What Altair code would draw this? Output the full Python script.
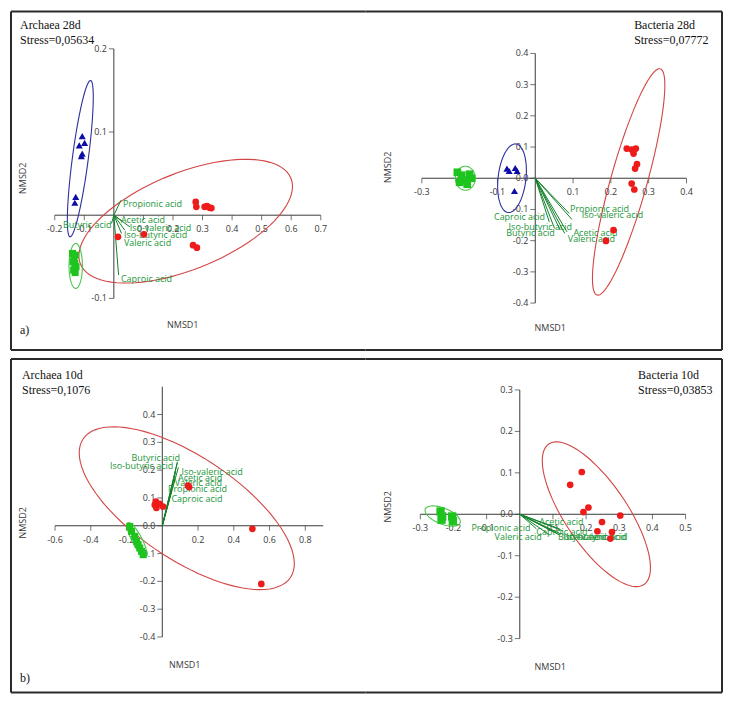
import altair as alt
import pandas as pd

ACIDS = ["Propionic acid", "Acetic acid", "Butyric acid", "Iso-valeric acid",
         "Iso-butyric acid", "Valeric acid", "Caproic acid"]

# ---------------- Panel a-left : Archaea 28d ----------------
A_title = ["Archaea 28d", "Stress=0,05634"]
A_circ_x = [0.277, 0.279, 0.307, 0.315, 0.324, 0.330, 0.268, 0.281, 0.102, 0.014]
A_circ_y = [0.016, 0.010, 0.010, 0.011, 0.009, 0.0085, -0.036, -0.039, -0.023, -0.026]
A_tri_x = [-0.107, -0.117, -0.099, -0.110, -0.107, -0.129, -0.132]
A_tri_y = [0.095, 0.084, 0.087, 0.071, 0.074, 0.022, 0.015]
A_sq_x = [-0.140, -0.135, -0.130, -0.138, -0.132, -0.128, -0.136, -0.131]
A_sq_y = [-0.046, -0.050, -0.048, -0.056, -0.058, -0.062, -0.066, -0.069]
A_vec_x = [0.024, 0.031, -0.008, 0.054, 0.037, 0.026, 0.016]
A_vec_y = [0.018, -0.008, -0.010, -0.014, -0.018, -0.022, -0.072]
A_lab_x = [0.031, 0.024, -0.008, 0.054, 0.034, 0.034, 0.024]
A_lab_y = [0.014, -0.006, -0.012, -0.016, -0.024, -0.033, -0.077]
A_lab_al = ["left", "left", "right", "left", "left", "left", "left"]
# ellipses: colour, centre x, centre y, semi-axis vector a (x, y), semi-axis vector b (x, y)
A_ell = [("red", 0.243, -0.0072, 0.356, 0.0516, 0.0615, -0.0536),
         ("blue", -0.1135, 0.068, 0.0348, 0.094, 0.0267, -0.00125),
         ("green", -0.129, -0.061, 0.0, 0.027, 0.0226, 0.0)]
A_xticks = [-0.2, -0.1, 0.1, 0.2, 0.3, 0.4, 0.5, 0.6, 0.7]
A_xlabels = ["-0.2", "-0.1", "0.1", "0.2", "0.3", "0.4", "0.5", "0.6", "0.7"]
A_yticks = [0.2, 0.1, -0.1]
A_ylabels = ["0.2", "0.1", "-0.1"]
A_xrange = [-0.2, 0.7]
A_yrange = [-0.1, 0.2]

# ---------------- Panel a-right : Bacteria 28d ----------------
B_title = ["Bacteria 28d", "Stress=0,07772"]
B_circ_x = [0.242, 0.255, 0.266, 0.260, 0.269, 0.264, 0.255, 0.262, 0.207, 0.187]
B_circ_y = [0.095, 0.092, 0.095, 0.079, 0.045, 0.031, -0.017, -0.036, -0.166, -0.201]
B_tri_x = [-0.075, -0.069, -0.053, -0.048, -0.055]
B_tri_y = [0.031, 0.023, 0.033, 0.023, -0.041]
B_sq_x = [-0.206, -0.195, -0.174, -0.188, -0.169, -0.200, -0.180]
B_sq_y = [0.019, 0.0096, 0.0128, -0.0064, 0.0, -0.0128, -0.019]
B_vec_x = [0.090, 0.084, 0.051, 0.097, 0.066, 0.078, 0.037]
B_vec_y = [-0.113, -0.172, -0.161, -0.132, -0.166, -0.177, -0.140]
B_lab_x = [0.092, 0.101, -0.077, 0.123, -0.0705, 0.086, 0.026]
B_lab_y = [-0.0976, -0.177, -0.175, -0.118, -0.156, -0.195, -0.124]
B_lab_al = ["left", "left", "left", "left", "left", "left", "right"]
B_ell = [("red", 0.247, -0.0118, 0.0837, 0.3626, 0.0465, -0.0157),
         ("blue", -0.0615, 0.0, 0.0087, 0.110, 0.037, 0.0),
         ("green", -0.185, 0.0, 0.0264, 0.0, 0.0, 0.0384)]
B_xticks = [-0.3, -0.2, -0.1, 0.1, 0.2, 0.3, 0.4]
B_xlabels = ["-0.3", "", "-0.1", "0.1", "0.2", "0.3", "0.4"]
B_yticks = [0.4, 0.3, 0.2, 0.1, 0.0, -0.1, -0.2, -0.3, -0.4]
B_ylabels = ["0.4", "0.3", "0.2", "0.1", "0.0", "-0.1", "-0.2", "-0.3", "-0.4"]
B_xrange = [-0.3, 0.4]
B_yrange = [-0.4, 0.4]

# ---------------- Panel b-left : Archaea 10d ----------------
C_title = ["Archaea 10d", "Stress=0,1076"]
C_circ_x = [-0.042, -0.033, -0.036, -0.014, 0.004, 0.144, 0.150, 0.504, 0.554]
C_circ_y = [0.075, 0.064, 0.087, 0.079, 0.069, 0.144, 0.139, -0.011, -0.209]
C_tri_x = []
C_tri_y = []
C_sq_x = [-0.182, -0.172, -0.154, -0.144, -0.135, -0.126, -0.116, -0.107]
C_sq_y = [-0.0025, -0.020, -0.038, -0.056, -0.068, -0.080, -0.092, -0.104]
C_vec_x = [0.060, 0.075, 0.085, 0.090, 0.083, 0.070, 0.050]
C_vec_y = [0.150, 0.195, 0.230, 0.210, 0.225, 0.170, 0.120]
C_lab_x = [0.032, 0.088, -0.172, 0.107, -0.293, 0.070, 0.051]
C_lab_y = [0.131, 0.173, 0.243, 0.195, 0.215, 0.153, 0.097]
C_lab_al = ["left"] * 7
C_ell = [("red", 0.137, 0.063, 0.580, -0.249, -0.160, -0.154),
         ("green", -0.142, -0.050, 0.050, -0.061, 0.0246, 0.0084)]
C_xticks = [-0.6, -0.4, -0.2, 0.2, 0.4, 0.6, 0.8]
C_xlabels = ["-0.6", "-0.4", "-0.2", "0.2", "0.4", "0.6", "0.8"]
C_yticks = [0.4, 0.3, 0.2, 0.1, 0.0, -0.1, -0.2, -0.3, -0.4]
C_ylabels = ["0.4", "0.3", "0.2", "0.1", "0.0", "-0.1", "-0.2", "-0.3", "-0.4"]
C_xrange = [-0.6, 0.9]
C_yrange = [-0.4, 0.5]

# ---------------- Panel b-right : Bacteria 10d ----------------
D_title = ["Bacteria 10d", "Stress=0,03853"]
D_circ_x = [0.152, 0.187, 0.192, 0.207, 0.248, 0.234, 0.278, 0.273, 0.303]
D_circ_y = [0.071, 0.102, 0.0053, 0.0164, -0.0187, -0.041, -0.043, -0.0586, -0.0029]
D_tri_x = []
D_tri_y = []
D_sq_x = [-0.239, -0.234, -0.236, -0.204, -0.202]
D_sq_y = [0.0067, -0.0053, -0.013, -0.0053, -0.017]
D_vec_x = [0.050, 0.120, 0.120, 0.130, 0.125, 0.090, 0.110]
D_vec_y = [-0.035, -0.035, -0.050, -0.040, -0.048, -0.050, -0.045]
D_lab_x = [-0.146, 0.059, 0.115, 0.140, 0.130, -0.076, 0.050]
D_lab_y = [-0.033, -0.019, -0.056, -0.056, -0.055, -0.054, -0.042]
D_lab_al = ["left"] * 7
D_ell = [("red", 0.231, 0.0, 0.1434, -0.1696, -0.0778, -0.0421),
         ("green", -0.2325, -0.0043, 0.0524, -0.0169, 0.009, 0.0178)]
D_xticks = [-0.3, -0.2, -0.1, 0.1, 0.2, 0.3, 0.4, 0.5]
D_xlabels = ["-0.3", "-0.2", "-0.1", "0.1", "0.2", "0.3", "0.4", "0.5"]
D_yticks = [0.3, 0.2, 0.1, 0.0, -0.1, -0.2, -0.3]
D_ylabels = ["0.3", "0.2", "0.1", "0.0", "-0.1", "-0.2", "-0.3"]
D_xrange = [-0.3, 0.5]
D_yrange = [-0.3, 0.3]

# ---------------- styling / layout ----------------
SANS = "Open Sans"
SERIF = "Liberation Serif"
AXIS_COL = "#3a3a3a"
LAB_COL = "#23963a"
VEC_COL = "#12822a"
ELL_COL = {"red": "#d24545", "blue": "#2e2e9e", "green": "#4cc44c"}
PT_RED, PT_BLUE, PT_GREEN = "#ee1b1b", "#0c0ca6", "#1ec41e"


def panel(data, geo):
    W, H = geo["w"], geo["h"]
    x0, y0, kx, ky = geo["x0"], geo["y0"], geo["kx"], geo["ky"]
    xs = alt.Scale(domain=[-x0 / kx, (W - x0) / kx], nice=False, zero=False)
    ys = alt.Scale(domain=[(y0 - H) / ky, y0 / ky], nice=False, zero=False)

    def X(f):
        return alt.X(f, type="quantitative", scale=xs, axis=None)

    def Y(f):
        return alt.Y(f, type="quantitative", scale=ys, axis=None)

    one = pd.DataFrame({"k": [0]})
    layers = []

    # box border (pixel positioned)
    bc = "#2b2b2b"
    b = geo["box"]
    layers.append(alt.Chart(one).mark_rule(color=bc, strokeWidth=2).encode(
        x=alt.value(b["l"]), x2=alt.value(b["r"]), y=alt.value(b["t"])))
    layers.append(alt.Chart(one).mark_rule(color=bc, strokeWidth=2).encode(
        x=alt.value(b["l"]), x2=alt.value(b["r"]), y=alt.value(b["b"])))
    layers.append(alt.Chart(one).mark_rule(color=bc, strokeWidth=2).encode(
        x=alt.value(b["side"]), y=alt.value(b["t"]), y2=alt.value(b["b"])))

    # crossing axes
    hx = pd.DataFrame({"x": [data["xrange"][0]], "x2": [data["xrange"][1]], "y": [0.0]})
    vy = pd.DataFrame({"x": [0.0], "y": [data["yrange"][0]], "y2": [data["yrange"][1]]})
    layers.append(alt.Chart(hx).mark_rule(color=AXIS_COL, strokeWidth=1).encode(
        x=X("x"), x2="x2", y=Y("y")))
    layers.append(alt.Chart(vy).mark_rule(color=AXIS_COL, strokeWidth=1).encode(
        x=X("x"), y=Y("y"), y2="y2"))
    xt = pd.DataFrame({"x": data["xticks"], "y": [0.0] * len(data["xticks"]),
                       "lab": data["xlabels"]})
    yt = pd.DataFrame({"x": [0.0] * len(data["yticks"]), "y": data["yticks"],
                       "lab": data["ylabels"]})
    layers.append(alt.Chart(xt).mark_tick(orient="vertical", size=5, thickness=1,
                                          color=AXIS_COL, yOffset=2.5).encode(
        x=X("x"), y=Y("y")))
    layers.append(alt.Chart(yt).mark_tick(orient="horizontal", size=5, thickness=1,
                                          color=AXIS_COL, xOffset=-2.5).encode(
        x=X("x"), y=Y("y")))
    layers.append(alt.Chart(xt).mark_text(font=SANS, fontSize=9, color=AXIS_COL,
                                          align="center", baseline="middle", dy=14).encode(
        x=X("x"), y=Y("y"), text="lab:N"))
    layers.append(alt.Chart(yt).mark_text(font=SANS, fontSize=9, color=AXIS_COL,
                                          align="right", baseline="middle", dx=-7).encode(
        x=X("x"), y=Y("y"), text="lab:N"))

    # ellipses
    for col, cx, cy, ax, ay, bx, by in data["ell"]:
        layers.append(
            alt.Chart(alt.sequence(0, 364, 4, as_="t"))
            .transform_calculate(
                ex=f"{cx} + {ax}*cos(datum.t*PI/180) + {bx}*sin(datum.t*PI/180)",
                ey=f"{cy} + {ay}*cos(datum.t*PI/180) + {by}*sin(datum.t*PI/180)")
            .mark_line(color=ELL_COL[col], strokeWidth=1.1)
            .encode(x=X("ex:Q"), y=Y("ey:Q"), order="t:Q"))

    # environmental vectors
    vec = pd.DataFrame({"acid": ACIDS, "x": data["vec_x"], "y": data["vec_y"],
                        "x0": [0.0] * 7, "y0": [0.0] * 7})
    layers.append(alt.Chart(vec).mark_rule(color=VEC_COL, strokeWidth=1).encode(
        x=X("x0"), y=Y("y0"), x2="x", y2="y"))
    lab = pd.DataFrame({"acid": ACIDS, "x": data["lab_x"], "y": data["lab_y"],
                        "al": data["lab_al"]})
    for al in ["left", "right"]:
        sub = lab[lab["al"] == al]
        if len(sub):
            layers.append(alt.Chart(sub).mark_text(font=SANS, fontSize=9, color=LAB_COL,
                                                   align=al, baseline="middle").encode(
                x=X("x"), y=Y("y"), text="acid:N"))

    # sample points
    if data["tri_x"]:
        layers.append(alt.Chart(pd.DataFrame({"x": data["tri_x"], "y": data["tri_y"]}))
                      .mark_point(shape="triangle-up", filled=True, opacity=1,
                                  color=PT_BLUE, size=50)
                      .encode(x=X("x"), y=Y("y")))
    layers.append(alt.Chart(pd.DataFrame({"x": data["sq_x"], "y": data["sq_y"]}))
                  .mark_point(shape="square", filled=True, opacity=1, color=PT_GREEN,
                              size=geo.get("sq", 50))
                  .encode(x=X("x"), y=Y("y")))
    layers.append(alt.Chart(pd.DataFrame({"x": data["circ_x"], "y": data["circ_y"]}))
                  .mark_point(shape="circle", filled=True, opacity=1, color=PT_RED, size=45)
                  .encode(x=X("x"), y=Y("y")))

    # texts in pixel positions
    t = geo["title"]
    for i, line in enumerate(data["title"]):
        layers.append(alt.Chart(one).mark_text(font=SERIF, fontSize=12, color="#111",
                                               align="left", baseline="middle",
                                               text=line).encode(
            x=alt.value(t[0]), y=alt.value(t[1] + 15 * i)))
    n1, n2 = geo["nmsd1"], geo["nmsd2"]
    layers.append(alt.Chart(one).mark_text(font=SANS, fontSize=9, color=AXIS_COL,
                                           align="center", baseline="middle",
                                           text="NMSD1").encode(
        x=alt.value(n1[0]), y=alt.value(n1[1])))
    layers.append(alt.Chart(one).mark_text(font=SANS, fontSize=9, color=AXIS_COL,
                                           align="center", baseline="middle", angle=270,
                                           text="NMSD2").encode(
        x=alt.value(n2[0]), y=alt.value(n2[1])))
    if geo.get("tag"):
        tg = geo["tag"]
        layers.append(alt.Chart(one).mark_text(font=SERIF, fontSize=12, color="#111",
                                               align="left", baseline="middle",
                                               text=tg[0]).encode(
            x=alt.value(tg[1]), y=alt.value(tg[2])))

    return alt.layer(*layers).properties(width=W, height=H)


def grab(prefix):
    g = globals()
    keys = ["title", "circ_x", "circ_y", "tri_x", "tri_y", "sq_x", "sq_y", "vec_x", "vec_y",
            "lab_x", "lab_y", "lab_al", "ell", "xticks", "xlabels", "yticks", "ylabels",
            "xrange", "yrange"]
    return {k: g[f"{prefix}_{k}"] for k in keys}


# page geometry: panels placed from page (8, 8); origin positions in panel-local pixels
LW, RW = 358, 360
TH, BH = 347, 343
geoA = dict(w=LW, h=TH, x0=114 - 8, y0=215 - 8, kx=296, ky=833,
            box=dict(l=3, r=LW, t=3, b=342, side=3),
            title=(12, 17), nmsd1=(175, 317), nmsd2=(15, 170), tag=("a)", 12, 322))
geoB = dict(w=RW, h=TH, x0=536 - 366, y0=178 - 8, kx=378.6, ky=312.5,
            box=dict(l=0, r=357, t=3, b=342, side=357), sq=60,
            title=(269, 17), nmsd1=(185, 320), nmsd2=(23, 159))
geoC = dict(w=LW, h=BH, x0=162.5 - 8, y0=526 - 355, kx=179, ky=278.5,
            box=dict(l=3, r=LW, t=4, b=338, side=3),
            title=(14, 20), nmsd1=(177, 310), nmsd2=(15, 168), tag=("b)", 12, 323))
geoD = dict(w=RW, h=BH, x0=520.5 - 366, y0=514.5 - 355, kx=332, ky=415,
            box=dict(l=0, r=357, t=4, b=338, side=357), sq=70,
            title=(273, 20), nmsd1=(185, 312), nmsd2=(23, 152))

pA = panel(grab("A"), geoA)
pB = panel(grab("B"), geoB)
pC = panel(grab("C"), geoC)
pD = panel(grab("D"), geoD)

chart = alt.vconcat(
    alt.hconcat(pA, pB, spacing=0, bounds="flush"),
    alt.hconcat(pC, pD, spacing=0, bounds="flush"),
    spacing=0,
).configure_view(stroke=None).properties(padding=0, background="white")

chart.save("out.html", embed_options={"renderer": "svg", "actions": False})
